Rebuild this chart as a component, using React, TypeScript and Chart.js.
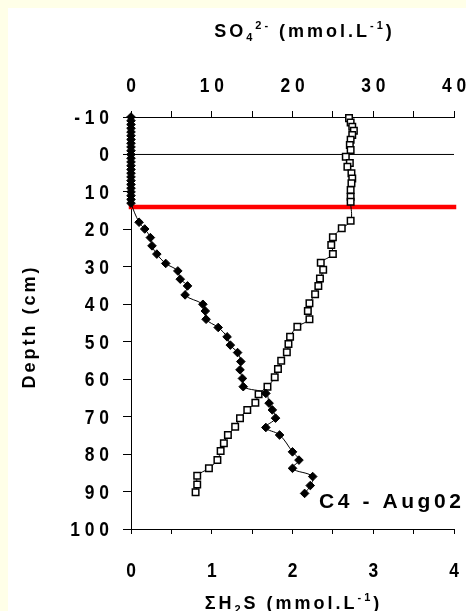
import { useEffect, useRef } from 'react';
import { Chart, registerables } from 'chart.js';

Chart.register(...registerables);

// ΣH2S profile (bottom axis, mmol/L) — depth in cm
const h2sDepth = [
  -10, -9, -8, -7, -6, -5, -4, -3, -2, -1, 0, 1, 2, 3, 4, 5, 6, 7, 8, 9, 10, 11, 12, 13,
  18.1, 19.9, 22.2, 24.4, 26.6, 29.1, 31.1, 33.3, 35.1, 37.5, 40.0, 41.8, 44.0, 46.2,
  48.7, 50.9, 52.9, 55.3, 57.5, 59.8, 62.0, 63.8, 66.4, 68.2, 70.4, 72.9, 74.9, 79.4,
  81.6, 83.8, 86.0, 88.4, 90.5,
];
const h2sValue = [
  0, 0, 0, 0, 0, 0, 0, 0, 0, 0, 0, 0, 0, 0, 0, 0, 0, 0, 0, 0, 0, 0, 0, 0,
  0.10, 0.17, 0.24, 0.26, 0.32, 0.43, 0.58, 0.61, 0.70, 0.67, 0.89, 0.92, 0.93, 1.08,
  1.19, 1.23, 1.32, 1.36, 1.35, 1.38, 1.39, 1.67, 1.71, 1.75, 1.79, 1.67, 1.84, 2.00,
  2.08, 2.00, 2.25, 2.22, 2.15,
];

// SO4 2- profile (top axis, mmol/L) — depth in cm
const so4Depth = [
  -9.7, -8.5, -7.4, -6.3, -5.2, -3.9, -2.5, -1.2, 0.6, 2.3, 3.3, 5.0, 6.4, 7.7, 9.5, 11.3, 12.6,
  17.7, 19.7, 22.1, 24.2, 26.6, 28.9, 30.8, 33.1, 35.1, 37.3, 39.7, 41.8, 44.0, 46.0,
  48.7, 50.6, 52.8, 55.1, 57.3, 59.5, 62.0, 64.0, 66.3, 68.2, 70.4, 72.7, 74.9, 77.1,
  79.2, 81.6, 83.8, 85.8, 88.1, 90.2,
];
const so4Value = [
  27.0, 27.2, 27.4, 27.6, 27.4, 27.2, 27.1, 27.2, 26.6, 27.1, 26.8, 27.3, 27.4, 27.3, 27.2, 27.2, 27.2,
  27.2, 26.1, 25.0, 24.8, 25.0, 23.5, 23.8, 23.4, 23.2, 22.8, 22.1, 21.9, 22.1, 20.6,
  19.7, 19.5, 19.3, 18.6, 18.2, 17.8, 16.9, 15.8, 15.4, 14.4, 13.5, 12.9, 12.0, 11.5,
  11.1, 10.7, 9.65, 8.2, 8.2, 8.0,
];

// reference lines
const surfaceLineX = [0, 4];
const surfaceLineDepth = [0, 0];
const redLineX = [0, 4];
const redLineDepth = [14, 14];

const depthMin = -10;
const depthMax = 100;
const h2sMin = 0;
const h2sMax = 4;
const so4Min = 0;
const so4Max = 40;

const stationLabel = 'C4 - Aug02';
const depthTitle = 'Depth (cm)';

const FAMILY = "'Liberation Sans', Arial, sans-serif";

type Seg = { text: string; size: number; dy: number };

function drawSegments(
  ctx: CanvasRenderingContext2D,
  segs: Seg[],
  x: number,
  y: number,
  align: 'left' | 'center' | 'right',
  spacing: number,
) {
  ctx.save();
  (ctx as any).letterSpacing = spacing + 'px';
  ctx.textAlign = 'left';
  ctx.textBaseline = 'alphabetic';
  ctx.fillStyle = '#000';
  const widths = segs.map((s) => {
    ctx.font = `bold ${s.size}px ${FAMILY}`;
    return ctx.measureText(s.text).width;
  });
  const total = widths.reduce((a, b) => a + b, 0) - spacing;
  let cx = align === 'center' ? x - total / 2 : align === 'right' ? x - total : x;
  segs.forEach((s, i) => {
    ctx.font = `bold ${s.size}px ${FAMILY}`;
    ctx.fillText(s.text, cx, y + s.dy);
    cx += widths[i];
  });
  ctx.restore();
}

// condensed, letter-spaced single text
function drawTick(
  ctx: CanvasRenderingContext2D,
  text: string,
  x: number,
  y: number,
  align: 'center' | 'right',
  size: number,
  spacing: number,
  sx: number,
) {
  ctx.save();
  ctx.font = `bold ${size}px ${FAMILY}`;
  (ctx as any).letterSpacing = '0px';
  const raw = ctx.measureText(text).width;
  const w = raw * sx + spacing * (text.length - 1);
  const left = align === 'center' ? x - w / 2 : x - w;
  (ctx as any).letterSpacing = spacing / sx + 'px';
  ctx.translate(left, y);
  ctx.scale(sx, 1);
  ctx.textAlign = 'left';
  ctx.textBaseline = 'alphabetic';
  ctx.fillStyle = '#000';
  ctx.fillText(text, 0, 0);
  ctx.restore();
}

const isMultiple = (v: number, m: number) => Math.abs(v / m - Math.round(v / m)) < 1e-6;

export default function App() {
  const ref = useRef<HTMLCanvasElement | null>(null);

  useEffect(() => {
    document.body.style.background = '#FFFFE8';
    const canvas = ref.current;
    if (!canvas) return;

    const TICK_SIZE = 20;
    const TICK_SPACING = 4.8;
    const TICK_SX = 0.87;

    const textPlugin = {
      id: 'texts',
      afterDraw(chart: any) {
        const ctx = chart.ctx as CanvasRenderingContext2D;
        const sx = chart.scales.x;
        const sx2 = chart.scales.x2;
        const sy = chart.scales.y;
        // tick labels from the library's ticks
        sx.ticks.forEach((t: any) => {
          if (!isMultiple(t.value, 1)) return;
          drawTick(ctx, String(t.value), sx.getPixelForValue(t.value), 569, 'center', TICK_SIZE, TICK_SPACING, TICK_SX);
        });
        sx2.ticks.forEach((t: any) => {
          if (!isMultiple(t.value, 10)) return;
          drawTick(ctx, String(t.value), sx2.getPixelForValue(t.value), 84, 'center', TICK_SIZE, TICK_SPACING, TICK_SX);
        });
        sy.ticks.forEach((t: any) => {
          drawTick(ctx, String(t.value), 101, sy.getPixelForValue(t.value) + 7, 'right', TICK_SIZE, TICK_SPACING, TICK_SX);
        });

        // top title
        drawSegments(
          ctx,
          [
            { text: 'SO', size: 18, dy: 0 },
            { text: '4', size: 11, dy: 4 },
            { text: '2-', size: 11, dy: -8 },
            { text: ' (mmol.L', size: 18, dy: 0 },
            { text: '-1', size: 11, dy: -8 },
            { text: ')', size: 18, dy: 0 },
          ],
          295,
          29,
          'center',
          3,
        );
        // bottom title
        drawSegments(
          ctx,
          [
            { text: 'ΣH', size: 18, dy: 0 },
            { text: '2', size: 11, dy: 4 },
            { text: 'S (mmol.L', size: 18, dy: 0 },
            { text: '-1', size: 11, dy: -8 },
            { text: ')', size: 18, dy: 0 },
          ],
          284,
          601,
          'center',
          3,
        );
        // y title
        ctx.save();
        ctx.translate(27, 320);
        ctx.rotate(-Math.PI / 2);
        drawSegments(ctx, [{ text: depthTitle, size: 18, dy: 0 }], 0, 0, 'center', 3);
        ctx.restore();
        // station label
        drawSegments(ctx, [{ text: stationLabel, size: 21, dy: 0 }], 453, 500, 'right', 3.6);
      },
    };

    const toPts = (xs: number[], ys: number[]) => xs.map((v, i) => ({ x: v, y: ys[i] }));

    const axisCommon = (tickLength: number) => ({
      grid: { drawOnChartArea: false, drawTicks: true, tickLength, color: '#000', tickWidth: 1 },
      border: { color: '#000', width: 1 },
    });

    const chart = new Chart(canvas, {
      type: 'scatter',
      data: {
        datasets: [
          {
            label: 'H2S',
            data: toPts(h2sValue, h2sDepth),
            xAxisID: 'x',
            yAxisID: 'y',
            showLine: true,
            tension: 0.4,
            borderColor: '#000',
            borderWidth: 1,
            pointStyle: 'rectRot',
            pointRadius: 4.3,
            pointBackgroundColor: '#000',
            pointBorderColor: '#000',
            pointBorderWidth: 1,
            clip: false as any,
          },
          {
            label: 'SO4',
            data: toPts(so4Value, so4Depth),
            xAxisID: 'x2',
            yAxisID: 'y',
            showLine: true,
            tension: 0.4,
            borderColor: '#000',
            borderWidth: 1,
            pointStyle: 'rect',
            pointRadius: 4.6,
            pointBackgroundColor: '#fff',
            pointBorderColor: '#000',
            pointBorderWidth: 1.5,
            clip: false as any,
          },
          {
            label: 'surface',
            data: toPts(surfaceLineX, surfaceLineDepth),
            xAxisID: 'x',
            yAxisID: 'y',
            showLine: true,
            borderColor: '#000',
            borderWidth: 1,
            pointRadius: 0,
          },
          {
            label: 'redox',
            data: toPts(redLineX, redLineDepth),
            xAxisID: 'x',
            yAxisID: 'y',
            showLine: true,
            borderColor: '#FF0000',
            borderWidth: 4.5,
            borderCapStyle: 'square',
            pointRadius: 0,
            clip: false as any,
          },
        ],
      },
      options: {
        animation: false,
        responsive: false,
        maintainAspectRatio: false,
        layout: { padding: { left: 0, right: 12, top: 0, bottom: 0 } },
        plugins: { legend: { display: false }, tooltip: { enabled: false } },
        scales: {
          x: {
            type: 'linear',
            position: 'bottom',
            min: h2sMin,
            max: h2sMax,
            ticks: { stepSize: 0.5, autoSkip: false, display: false },
            ...axisCommon(5),
            afterFit: (s: any) => {
              s.height = 82;
              s.paddingLeft = 0;
              s.paddingRight = 0;
            },
          },
          x2: {
            type: 'linear',
            position: 'top',
            min: so4Min,
            max: so4Max,
            ticks: { stepSize: 5, autoSkip: false, display: false },
            ...axisCommon(6),
            afterFit: (s: any) => {
              s.height = 109;
              s.paddingLeft = 0;
              s.paddingRight = 0;
            },
          },
          y: {
            type: 'linear',
            position: 'left',
            reverse: true,
            min: depthMin,
            max: depthMax,
            ticks: { stepSize: 10, autoSkip: false, display: false },
            ...axisCommon(8),
            afterFit: (s: any) => {
              s.width = 123;
              s.paddingTop = 0;
              s.paddingBottom = 0;
            },
          },
        },
      } as any,
      plugins: [textPlugin],
    });

    return () => chart.destroy();
  }, []);

  return (
    <div
      style={{
        position: 'fixed',
        left: 8,
        top: 8,
        width: 458,
        height: 603,
        background: '#ffffff',
      }}
    >
      <canvas ref={ref} width={458} height={603} style={{ display: 'block', width: 458, height: 603 }} />
    </div>
  );
}
